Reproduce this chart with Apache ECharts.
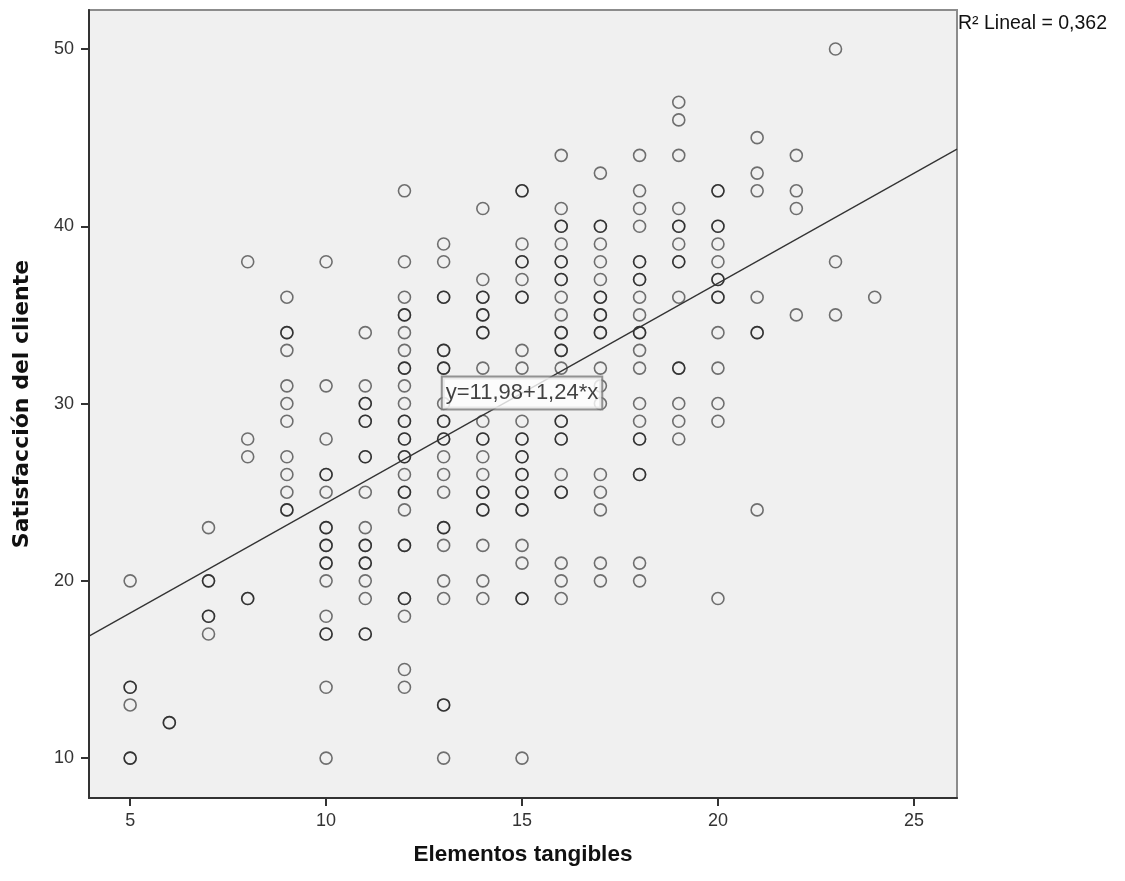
<!DOCTYPE html>
<head>
    <meta charset="utf-8">
    <title>ECharts</title>
</head>
<body style="margin:0;background:#fff">
    <div id="main" style="width:1125px;height:881px"></div>
    <script src="https://cdn.jsdelivr.net/npm/echarts@6/dist/echarts.min.js"></script>
    <script type="text/javascript">

    // Elementos tangibles (x) -> valores de satisfacción (y), repetidos cuando el círculo se ve más oscuro
    var x05 = [20, 14, 14, 13, 10, 10];
    var x06 = [12, 12];
    var x07 = [23, 20, 20, 18, 18, 17];
    var x08 = [38, 28, 27, 19, 19];
    var x09 = [36, 34, 34, 33, 31, 30, 29, 27, 26, 25, 24, 24];
    var x10 = [38, 31, 28, 26, 26, 25, 23, 23, 22, 22, 21, 21, 20, 18, 17, 17, 14, 10];
    var x11 = [34, 31, 30, 30, 29, 29, 27, 27, 25, 23, 22, 22, 21, 21, 20, 19, 17, 17];
    var x12 = [42, 38, 36, 35, 35, 34, 33, 32, 32, 31, 30, 29, 29, 28, 28, 27, 27, 26, 25, 25, 24, 22, 22, 19, 19, 18, 15, 14];
    var x13 = [39, 38, 36, 36, 33, 33, 32, 32, 30, 29, 29, 28, 28, 27, 26, 25, 23, 23, 22, 20, 19, 13, 13, 10];
    var x14 = [41, 37, 36, 36, 35, 35, 34, 34, 32, 29, 28, 28, 27, 26, 25, 25, 24, 24, 22, 20, 19];
    var x15 = [42, 42, 39, 38, 38, 37, 36, 36, 33, 32, 29, 28, 28, 27, 27, 26, 26, 25, 25, 24, 24, 22, 21, 19, 19, 10];
    var x16 = [44, 41, 40, 40, 39, 38, 38, 37, 37, 36, 35, 34, 34, 33, 33, 32, 29, 29, 28, 28, 26, 25, 25, 21, 20, 19];
    var x17 = [43, 40, 40, 39, 38, 37, 36, 36, 35, 35, 34, 34, 32, 31, 30, 26, 25, 24, 21, 20];
    var x18 = [44, 42, 41, 40, 38, 38, 37, 37, 36, 35, 34, 34, 33, 32, 30, 29, 28, 28, 26, 26, 21, 20];
    var x19 = [47, 46, 44, 41, 40, 40, 39, 38, 38, 36, 32, 32, 30, 29, 28];
    var x20 = [42, 42, 40, 40, 39, 38, 37, 37, 36, 36, 34, 32, 30, 29, 19];
    var x21 = [45, 43, 42, 36, 34, 34, 24];
    var x22 = [44, 42, 41, 35];
    var x23 = [50, 38, 35];
    var x24 = [36];

    var columns = [
        [5, x05], [6, x06], [7, x07], [8, x08], [9, x09], [10, x10], [11, x11],
        [12, x12], [13, x13], [14, x14], [15, x15], [16, x16], [17, x17], [18, x18],
        [19, x19], [20, x20], [21, x21], [22, x22], [23, x23], [24, x24]
    ];

    var fitX = [3.95, 26.1];
    var fitY = [16.88, 44.35];
    var eqText = 'y=11,98+1,24*x';
    var eqAt = [15.0, 30.6];
    var r2Text = 'R² Lineal = 0,362';

    var xTicks = [5, 10, 15, 20, 25];
    var yTicks = [10, 20, 30, 40, 50];

    var points = [];
    columns.forEach(function (c) {
        c[1].forEach(function (v) { points.push([c[0], v]); });
    });

    var font = 'Liberation Sans, Arial, sans-serif';
    var myChart = echarts.init(document.getElementById('main'));

    var option = {
        backgroundColor: '#ffffff',
        animation: false,
        textStyle: { fontFamily: font },
        grid: {
            left: 89, right: 168, top: 10, bottom: 83,
            show: true, backgroundColor: '#f0f0f0',
            borderColor: '#8c8c8c', borderWidth: 2
        },
        xAxis: {
            type: 'value', min: 3.95, max: 26.1,
            name: 'Elementos tangibles', nameLocation: 'middle', nameGap: 45,
            nameTextStyle: { fontFamily: font, fontSize: 22.5, fontWeight: 'bold', color: '#111' },
            axisLine: { show: true, onZero: false, lineStyle: { color: '#333', width: 2 } },
            axisTick: { show: true, length: 8, customValues: xTicks, lineStyle: { color: '#333', width: 2 } },
            axisLabel: { customValues: xTicks, margin: 14, fontSize: 18, color: '#333' },
            splitLine: { show: false }
        },
        yAxis: {
            type: 'value', min: 7.75, max: 52.2,
            name: 'Satisfacción del cliente', nameLocation: 'middle', nameGap: 56,
            nameTextStyle: { fontFamily: 'DejaVu Sans, sans-serif', fontSize: 22, fontWeight: 'bold', color: '#111' },
            axisLine: { show: true, onZero: false, lineStyle: { color: '#333', width: 2 } },
            axisTick: { show: true, length: 8, customValues: yTicks, lineStyle: { color: '#333', width: 2 } },
            axisLabel: { customValues: yTicks, margin: 15, fontSize: 18, color: '#333' },
            splitLine: { show: false }
        },
        graphic: [{
            type: 'text', left: 958, top: 14,
            style: { text: r2Text, fontFamily: font, fontSize: 19.5, fill: '#111' }
        }],
        series: [{
            name: 'puntos',
            type: 'scatter',
            symbol: 'circle',
            symbolSize: 12,
            itemStyle: { color: 'rgba(0,0,0,0)', borderColor: 'rgba(0,0,0,0.68)', borderWidth: 1.6 },
            data: points,
            z: 2
        }, {
            name: 'ajuste',
            type: 'line',
            data: [[fitX[0], fitY[0]], [fitX[1], fitY[1]]],
            symbol: 'none',
            lineStyle: { color: '#333', width: 1.3 },
            z: 3
        }, {
            name: 'ecuacion',
            type: 'scatter',
            data: [eqAt],
            symbolSize: 0,
            z: 5,
            label: {
                show: true, position: 'inside', formatter: eqText,
                fontFamily: font, fontSize: 22, color: '#111',
                backgroundColor: '#ffffff', borderColor: '#7a7a7a', borderWidth: 2,
                padding: [5, 3, 4, 3]
            }
        }]
    };

    myChart.setOption(option);
    </script>
</body>
